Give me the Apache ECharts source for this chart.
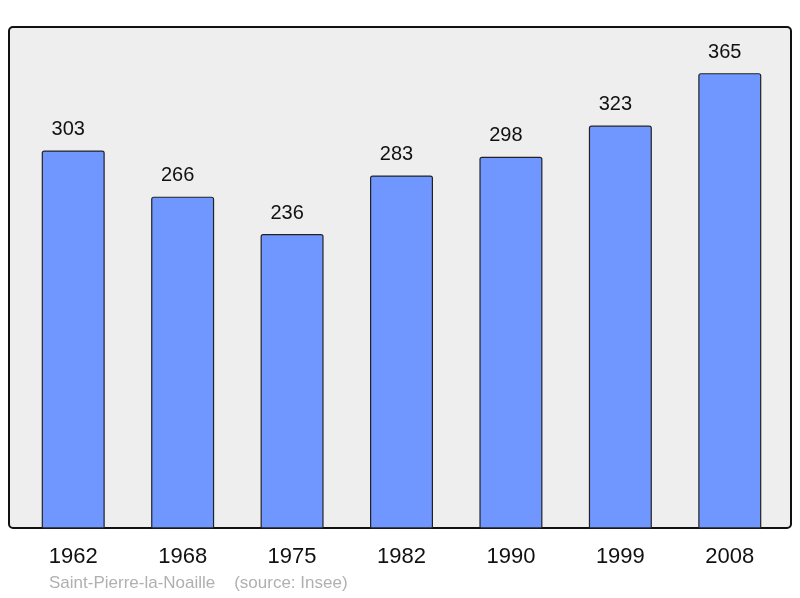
<!DOCTYPE html>
<html>
<head>
<meta charset="utf-8">
<script src="https://cdn.jsdelivr.net/npm/echarts@6/dist/echarts.min.js"></script>
<style>
  html, body { margin: 0; padding: 0; background: #ffffff; }
  #main { width: 800px; height: 598px; }
</style>
</head>
<body>
<div id="main"></div>
<script>
var years = ['1962', '1968', '1975', '1982', '1990', '1999', '2008'];
var population = [303, 266, 236, 283, 298, 323, 365];
var townName = 'Saint-Pierre-la-Noaille';
var sourceText = '(source: Insee)';

var myChart = echarts.init(document.getElementById('main'));

var option = {
    animation: false,
    textStyle: { fontFamily: 'Liberation Sans, Arial, sans-serif' },
    graphic: [
        {
            type: 'rect',
            z: -1,
            shape: { x: 9, y: 27, width: 782, height: 501, r: 4 },
            style: { fill: '#eeeeee', stroke: '#111111', lineWidth: 2 }
        },
        {
            type: 'text',
            left: 49,
            top: 575,
            style: {
                text: townName + '    ' + sourceText,
                fill: '#b0b0b0',
                font: '17px Liberation Sans, Arial, sans-serif'
            }
        }
    ],
    grid: { left: 18.5, right: 15.5, top: 27, bottom: 69.5 },
    xAxis: {
        type: 'category',
        data: years,
        axisLine: { show: false },
        axisTick: { show: false },
        axisLabel: { fontSize: 22, color: '#111111', margin: 17 }
    },
    yAxis: {
        type: 'value',
        min: 0,
        max: 402,
        show: false,
        splitLine: { show: false }
    },
    series: [{
        type: 'bar',
        data: population,
        barWidth: 63,
        itemStyle: {
            color: '#7097ff',
            borderColor: '#222222',
            borderWidth: 1.2,
            borderRadius: [2, 2, 0, 0]
        },
        label: {
            show: true,
            position: 'top',
            distance: 11,
            offset: [-5, 0],
            fontSize: 20,
            color: '#111111'
        }
    }]
};
myChart.setOption(option);
</script>
</body>
</html>
